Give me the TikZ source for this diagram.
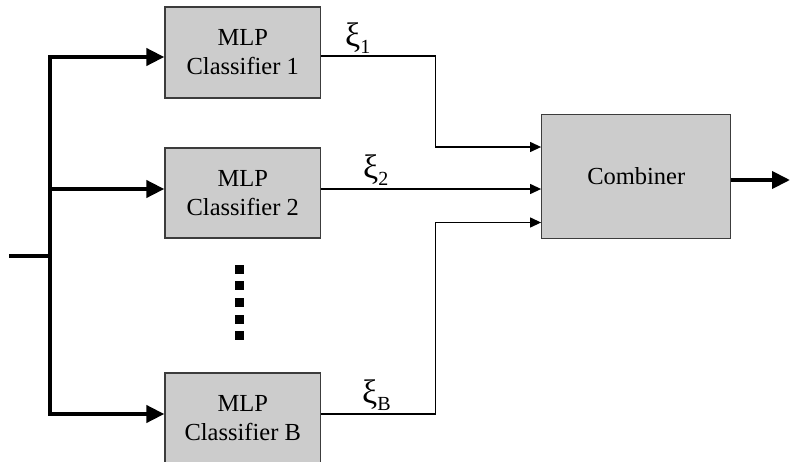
\documentclass[tikz,border=0pt]{standalone}
\usepackage{fontspec}
\setmainfont{Liberation Serif}
\usetikzlibrary{arrows.meta}
\definecolor{boxgray}{RGB}{204,204,204}
\definecolor{boxline}{RGB}{60,60,60}
\newcommand\xisub[1]{{\fontsize{34}{34}\selectfont ξ}\raisebox{-7pt}{\fontsize{20}{20}\selectfont #1}}
\tikzset{
  stage/.style={draw=boxline, line width=1.3pt, fill=boxgray, align=center,
    inner sep=0pt, font=\fontsize{24.5}{29}\selectfont},
  bus/.style={line width=4pt, line join=miter, line cap=butt},
  busarrow/.style={bus, -{Triangle[length=18pt,width=17pt]}},
  sig/.style={line width=1.2pt, -{Triangle[length=11pt,width=10pt]}},
  siglabel/.style={inner sep=0pt, anchor=base west},
}
\begin{document}
\begin{tikzpicture}[x=1pt, y=-1pt]
\useasboundingbox (0,0) rectangle (790,461);
\clip (0,0) rectangle (790,461);

% classifiers and combiner
\node[stage, minimum width=155.5pt, minimum height=91pt] (c1) at (242.75,52.5) {MLP\\Classifier 1};
\node[stage, minimum width=155.5pt, minimum height=90pt] (c2) at (242.75,193) {MLP\\Classifier 2};
\node[stage, minimum width=155.5pt, minimum height=91pt] (cB) at (242.75,418.5) {MLP\\Classifier B};
\node[stage, minimum width=189pt, minimum height=124.5pt] (comb) at (636.25,176.5) {Combiner};

% input bus
\coordinate (inp) at (9,256);
\coordinate (split) at (50,256);
\coordinate (t1) at (50,57);
\coordinate (t2) at (50,189);
\coordinate (tB) at (50,414);
\draw[bus] (inp) -- (split);
\draw[bus, {Triangle[length=18pt,width=17pt]}-{Triangle[length=18pt,width=17pt]}]
  (c1.west |- t1) -- (t1) -- (tB) -- (cB.west |- tB);
\draw[busarrow] (t2) -- (c2.west |- t2);

% ellipsis between classifiers
\foreach \yy in {269,285,302,319,335}
  \fill (235.3,\yy-4.5) rectangle (244.3,\yy+4.5);

% classifier outputs into the combiner
\coordinate (k1) at (435.5,56);
\coordinate (k2) at (435.5,189);
\coordinate (kB) at (435.5,414);
\coordinate (e1) at (541.7,147);
\coordinate (eB) at (541.7,222.5);
\draw[sig] (c1.east |- k1) -- (k1) |- (comb.west |- e1);
\draw[sig] (c2.east |- k2) -- (comb.west |- k2);
\draw[sig] (cB.east |- kB) -- (kB) |- (comb.west |- eB);

\node[siglabel] (x1) at (345,46) {\xisub{1}};
\node[siglabel] (x2) at (363,178.5) {\xisub{2}};
\node[siglabel] (xB) at (362,403) {\xisub{B}};

% combined output
\coordinate (out) at (790,180);
\draw[busarrow] (comb.east |- out) -- (out);
\end{tikzpicture}
\end{document}
